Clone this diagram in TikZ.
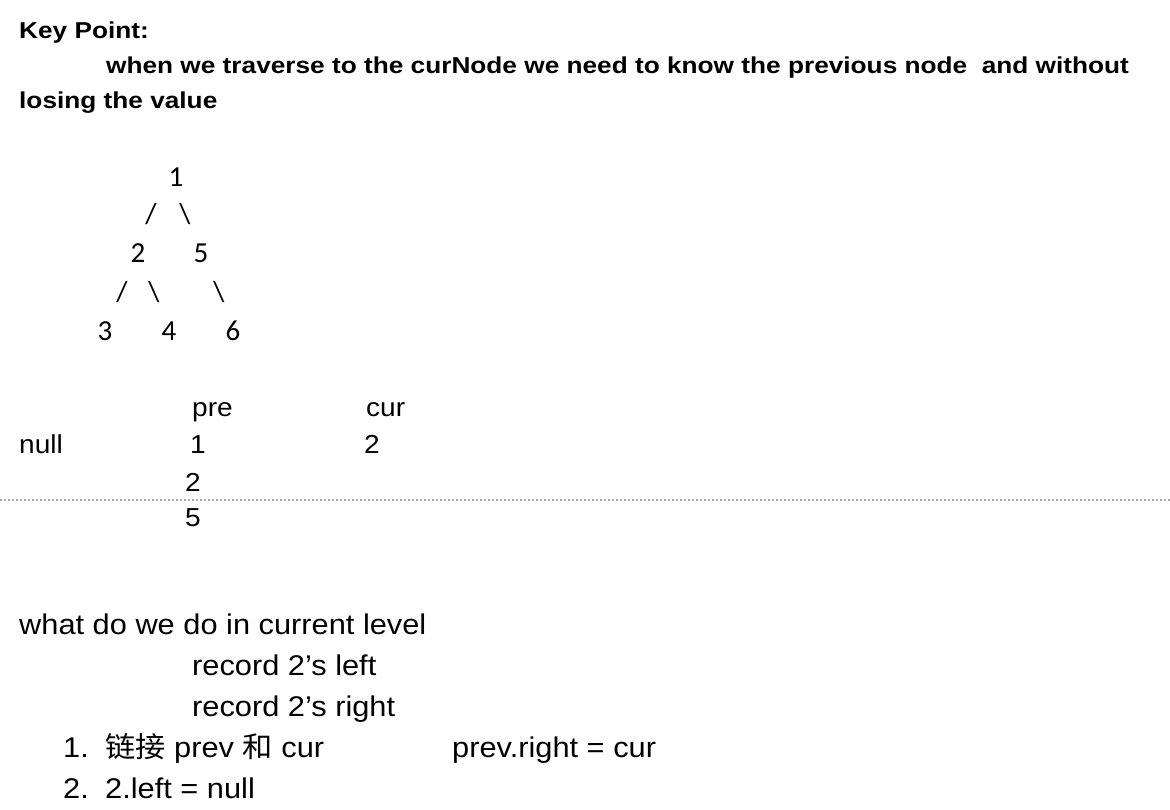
\documentclass[tikz,border=0pt]{standalone}
\usepackage{fontspec}
\setmainfont{Liberation Sans}[FakeStretch=1.08]
\newfontfamily\headfont{Liberation Sans}[FakeStretch=1.14]
\newfontfamily\cjkfont{Noto Sans CJK SC}[FakeStretch=1.06]
\newfontfamily\treefont{Carlito}

\begin{document}
\begin{tikzpicture}[x=1pt,y=-1pt,
  every node/.style={inner sep=0pt,anchor=base west},
  head/.style={font=\headfont\fontsize{23}{27}\selectfont\bfseries},
  body/.style={font=\fontsize{28.5}{33}\selectfont},
  tab/.style={font=\fontsize{26}{30}\selectfont},
  tree/.style={font=\treefont\fontsize{29}{34}\selectfont,anchor=center},
  sep/.style={gray!70,line width=1.4pt,dash pattern=on 2pt off 2pt}]

\useasboundingbox (0,0) rectangle (1170,810);

% key point
\node[head] (key) at (19,39) {Key Point:};
\node[head] (when) at (106,74) {when we traverse to the curNode we need to know the previous node\ \ and without};
\node[head] (losing) at (19,109) {losing the value};

% tree
\node[tree] (t1) at (176,177) {1};
\node[tree] (s12) at (151,214) {/};
\node[tree] (s15) at (185,214) {\textbackslash};
\node[tree] (t2) at (138,253) {2};
\node[tree] (t5) at (201,253) {5};
\node[tree] (s23) at (122,292) {/};
\node[tree] (s24) at (154,292) {\textbackslash};
\node[tree] (s56) at (219,292) {\textbackslash};
\node[tree] (t3) at (105,331) {3};
\node[tree] (t4) at (169,331) {4};
\node[tree] (t6) at (233,331) {6};

% pre / cur
\node[tab] (pre) at (192,416) {pre};
\node[tab] (cur) at (366,416) {cur};
\node[tab] (null) at (19,453) {null};
\node[tab,anchor=base] (pre1) at (198,453) {1};
\node[tab,anchor=base] (cur2) at (372,453) {2};
\node[tab,anchor=base] (pre2) at (193,491) {2};
\node[tab,anchor=base] (pre5) at (193,526) {5};

\coordinate (sepL) at (0,500);
\coordinate (sepR) at (1170,500);
\draw[sep] (sepL) -- (sepR);

% current level
\node[body] (what) at (19,634) {what do we do in current level};
\node[body] (recl) at (192,675) {record 2’s left};
\node[body] (recr) at (192,716) {record 2’s right};
\node[body] (n1) at (63,757) {1.};
\node[body] (link) at (105,757) {{\cjkfont 链接} prev {\cjkfont 和} cur};
\node[body] (prevr) at (452,757) {prev.right = cur};
\node[body] (n2) at (63,798) {2.};
\node[body] (left) at (105,798) {2.left = null};

\end{tikzpicture}
\end{document}
